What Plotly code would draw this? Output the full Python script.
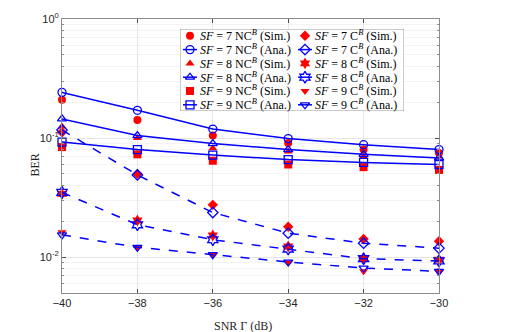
import math
import plotly.graph_objects as go

# --- data ---
snr = [-40, -38, -36, -34, -32, -30]

nc7_sim = [0.210, 0.142, 0.105, 0.091, 0.080, 0.075]
nc7_ana = [0.242, 0.171, 0.119, 0.099, 0.088, 0.080]
nc8_sim = [0.125, 0.100, 0.082, 0.077, 0.070, 0.070]
nc8_ana = [0.145, 0.105, 0.090, 0.080, 0.073, 0.068]
nc9_sim = [0.084, 0.073, 0.0645, 0.060, 0.057, 0.054]
nc9_ana = [0.0925, 0.080, 0.072, 0.066, 0.0625, 0.060]

c7_sim = [0.112, 0.050, 0.0275, 0.018, 0.0142, 0.0136]
c7_ana = [0.117, 0.049, 0.0237, 0.0159, 0.0131, 0.0119]
c8_sim = [0.034, 0.0203, 0.0152, 0.0123, 0.0098, 0.0095]
c8_ana = [0.035, 0.0187, 0.0140, 0.0117, 0.0097, 0.0093]
c9_sim = [0.0162, 0.0120, 0.0105, 0.0090, 0.0076, 0.0075]
c9_ana = [0.0154, 0.0121, 0.0105, 0.0091, 0.0081, 0.0076]

y_ticks = [0.01, 0.1, 1]
y_ticktext = ['10<sup>-2</sup>', '10<sup>-1</sup>', '10<sup>0</sup>']
y_minor = [m * 10 ** e for e in (-3, -2, -1) for m in range(2, 10)]

RED = '#FF0000'
BLUE = '#0000FF'
SERIF = 'Liberation Serif'
SANS = 'Liberation Sans'

# (name, sim data, ana data, symbol, dash, legend column)
series = [
    ('<i>SF</i> = 7 NC<sup><i>B</i></sup>', nc7_sim, nc7_ana, 'circle', 'solid', 0),
    ('<i>SF</i> = 8 NC<sup><i>B</i></sup>', nc8_sim, nc8_ana, 'triangle-up', 'solid', 0),
    ('<i>SF</i> = 9 NC<sup><i>B</i></sup>', nc9_sim, nc9_ana, 'square', 'solid', 0),
    ('<i>SF</i> = 7 C<sup><i>B</i></sup>', c7_sim, c7_ana, 'diamond', 'dash', 1),
    ('<i>SF</i> = 8 C<sup><i>B</i></sup>', c8_sim, c8_ana, 'hexagram', 'dash', 1),
    ('<i>SF</i> = 9 C<sup><i>B</i></sup>', c9_sim, c9_ana, 'triangle-down', 'dash', 1),
]

def msize(sym):
    return 9 if sym == 'hexagram' else 8

fig = go.Figure()

# simulated points first (red, filled)
for name, sim, ana, sym, dash, col in series:
    fig.add_trace(go.Scatter(
        x=snr, y=sim, mode='markers', cliponaxis=False, showlegend=False,
        marker=dict(symbol=sym, size=msize(sym), color=RED, line=dict(width=0))))

# analytical curves on top (blue, open markers)
for name, sim, ana, sym, dash, col in series:
    fig.add_trace(go.Scatter(
        x=snr, y=ana, mode='lines+markers', cliponaxis=False, showlegend=False,
        line=dict(color=BLUE, width=1.5, dash=dash),
        marker=dict(symbol=sym + '-open', size=msize(sym), color=BLUE, line=dict(width=1.3, color=BLUE))))

# --- hand-built legend in its own small axes (units = pixels) ---
leg_w, leg_h = 224, 82
fig.add_trace(go.Scatter(
    x=[0, leg_w, leg_w, 0, 0], y=[0, 0, leg_h, leg_h, 0], mode='lines', fill='toself',
    fillcolor='white', line=dict(color='#7f7f7f', width=0.8),
    xaxis='x2', yaxis='y2', showlegend=False, hoverinfo='skip'))

row0, row_step, col_step = 6.8, 13.8, 115
annotations = []
for k, (name, sim, ana, sym, dash, col) in enumerate(series):
    for j, kind in enumerate(['Sim.', 'Ana.']):
        r = row0 + row_step * ((k % 3) * 2 + j)
        x0 = col * col_step
        if kind == 'Ana.':
            fig.add_trace(go.Scatter(
                x=[x0 + 3, x0 + 17], y=[r, r], mode='lines', xaxis='x2', yaxis='y2',
                showlegend=False, hoverinfo='skip', line=dict(color=BLUE, width=1.5)))
            fig.add_trace(go.Scatter(
                x=[x0 + 10], y=[r], mode='markers', xaxis='x2', yaxis='y2',
                showlegend=False, hoverinfo='skip',
                marker=dict(symbol=sym + '-open', size=msize(sym), color=BLUE,
                            line=dict(width=1.3, color=BLUE))))
        else:
            fig.add_trace(go.Scatter(
                x=[x0 + 10], y=[r], mode='markers', xaxis='x2', yaxis='y2',
                showlegend=False, hoverinfo='skip',
                marker=dict(symbol=sym, size=msize(sym), color=RED, line=dict(width=0))))
        annotations.append(dict(
            x=x0 + 18, y=r, xref='x2', yref='y2', xanchor='left', yanchor='middle',
            text=f'{name} ({kind})', showarrow=False,
            font=dict(family=SERIF, size=12, color='black')))

# axis titles
annotations.append(dict(
    x=0.48, y=0, xref='paper', yref='paper', xanchor='center', yanchor='middle', yshift=-33,
    text='SNR Γ (dB)', showarrow=False, font=dict(family=SERIF, size=12, color='#262626')))
annotations.append(dict(
    x=0, y=0.465, xref='paper', yref='paper', xanchor='center', yanchor='middle', xshift=-27,
    text='BER', textangle=-90, showarrow=False, font=dict(family=SERIF, size=12, color='#262626')))

hidden = dict(showticklabels=False, showgrid=False, zeroline=False, showline=False,
              ticks='', fixedrange=True)

fig.update_layout(
    width=526, height=332,
    margin=dict(l=54, r=95, t=11, b=47),
    paper_bgcolor='white', plot_bgcolor='white',
    annotations=annotations,
    xaxis=dict(
        range=[-40, -30], tickvals=snr, ticks='inside', ticklen=4, tickcolor='#4d4d4d',
        showline=True, linecolor='#8c8c8c', linewidth=1, mirror='ticks',
        showgrid=True, gridcolor='#e6e6e6', zeroline=False, automargin=False,
        tickfont=dict(family=SANS, size=11, color='#262626')),
    yaxis=dict(
        type='log', range=[math.log10(0.005), 0],
        tickvals=y_ticks, ticktext=y_ticktext, ticks='inside', ticklen=4, tickcolor='#4d4d4d',
        showline=True, linecolor='#8c8c8c', linewidth=1, mirror='ticks',
        showgrid=True, gridcolor='#e6e6e6', zeroline=False, automargin=False,
        minor=dict(tickvals=y_minor, showgrid=True, gridcolor='#f3f3f3',
                   ticks='inside', ticklen=2, tickcolor='#8c8c8c'),
        tickfont=dict(family=SANS, size=11, color='#262626')),
    xaxis2=dict(domain=[(172 - 54) / 377, (396 - 54) / 377], range=[0, leg_w],
                anchor='y2', **hidden),
    yaxis2=dict(domain=[(285 - 103) / 274, (285 - 21) / 274], range=[leg_h, 0],
                anchor='x2', **hidden),
)

fig.write_html('out.html')
